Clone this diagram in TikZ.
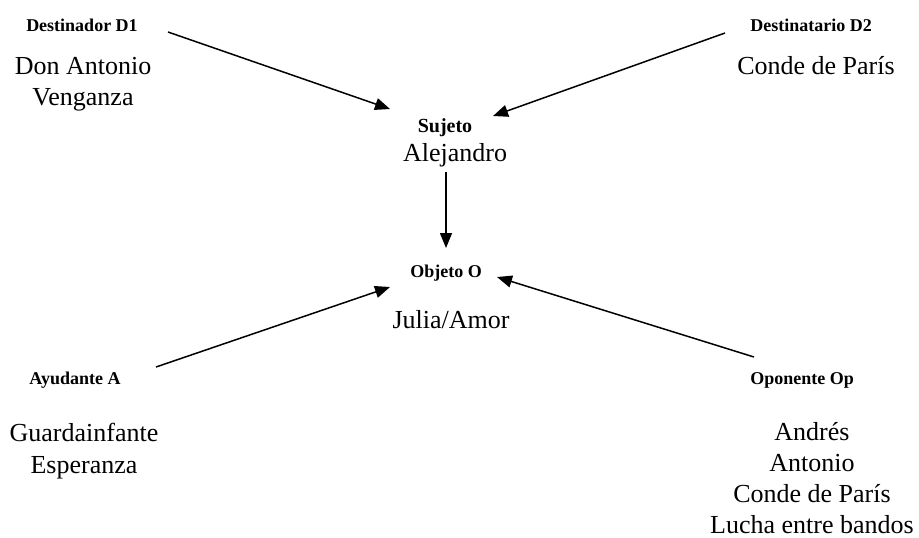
\documentclass[tikz,border=0pt]{standalone}
\usepackage{fontspec}
\setmainfont{Liberation Serif}
\usetikzlibrary{arrows.meta}

\tikzset{
  role/.style={inner sep=0pt, font=\fontsize{9}{11}\selectfont\bfseries},
  actor/.style={inner sep=0pt, align=center, font=\fontsize{13}{15.6}\selectfont},
  arr/.style={-{Triangle[length=7.5pt,width=6pt]}, line width=0.75pt}
}

\begin{document}
\begin{tikzpicture}[x=0.5pt,y=-0.5pt]
\useasboundingbox (0,0) rectangle (919,537);

% actantes
\node[role] (d1) at (82,25) {Destinador D1};
\node[actor] (d1txt) at (83,84) {Don Antonio\\Venganza};
\node[role] (d2) at (811,25) {Destinatario D2};
\node[actor] (d2txt) at (816,66) {Conde de París};

\node[role, font=\fontsize{10}{12}\selectfont\bfseries] (suj) at (445,128) {Sujeto};
\node[actor] (sujtxt) at (455,155) {Alejandro};
\node[role] (obj) at (446,273) {Objeto O};
\node[actor] (objtxt) at (451,320) {Julia/Amor};

\node[role] (ayu) at (75,380) {Ayudante A};
\node[actor] (ayutxt) at (84,451) {Guardainfante\\Esperanza};
\node[role] (opo) at (802,380) {Oponente Op};
\node[actor] (opotxt) at (812,478) {Andrés\\Antonio\\Conde de París\\Lucha entre bandos};

% extremos de las flechas
\coordinate (d1-out) at (168,32);
\coordinate (d2-out) at (725,33);
\coordinate (suj-l) at (390,109);
\coordinate (suj-r) at (493,116);
\coordinate (suj-out) at (446,172);
\coordinate (obj-top) at (446,248);
\coordinate (ayu-out) at (156,367);
\coordinate (opo-out) at (754,357);
\coordinate (obj-l) at (390,287);
\coordinate (obj-r) at (497,277);

\draw[arr] (d1-out) -- (suj-l);
\draw[arr] (d2-out) -- (suj-r);
\draw[arr] (suj-out) -- (obj-top);
\draw[arr] (ayu-out) -- (obj-l);
\draw[arr] (opo-out) -- (obj-r);
\end{tikzpicture}
\end{document}
